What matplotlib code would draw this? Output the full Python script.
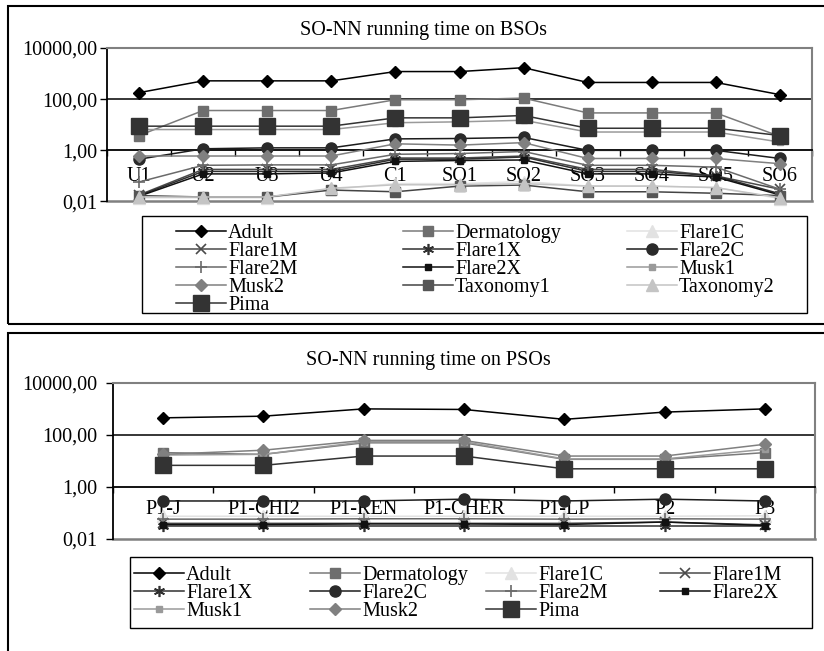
import matplotlib
matplotlib.use("Agg")
import matplotlib.pyplot as plt
from matplotlib.lines import Line2D
from matplotlib.patches import Rectangle
import numpy as np

plt.rcParams['font.family'] = ['Liberation Serif', 'DejaVu Serif']

# ---------------- data ----------------
bso_categories = ['U1', 'U2', 'U3', 'U4', 'C1', 'SO1', 'SO2', 'SO3', 'SO4', 'SO5', 'SO6']
bso_adult = [180, 520, 520, 520, 1200, 1200, 1700, 450, 450, 450, 150]
bso_dermatology = [3.8, 36, 36, 36, 95, 95, 110, 29, 29, 29, 3.5]
bso_flare1c = [0.014, 0.014, 0.014, 0.03, 0.05, 0.05, 0.06, 0.04, 0.04, 0.035, 0.013]
bso_flare1m = [0.018, 0.18, 0.18, 0.18, 0.5, 0.5, 0.6, 0.18, 0.18, 0.1, 0.03]
bso_flare1x = [0.017, 0.15, 0.15, 0.15, 0.45, 0.45, 0.55, 0.15, 0.15, 0.1, 0.02]
bso_flare2c = [0.45, 1.15, 1.25, 1.25, 2.8, 2.9, 3.2, 1.0, 1.0, 1.0, 0.48]
bso_flare2m = [0.058, 0.26, 0.27, 0.27, 0.7, 0.75, 0.9, 0.26, 0.26, 0.22, 0.03]
bso_flare2x = [0.016, 0.12, 0.12, 0.13, 0.37, 0.4, 0.42, 0.12, 0.12, 0.09, 0.018]
bso_musk1 = [6.5, 6.5, 6.5, 6.5, 12, 13, 15, 5.2, 5.2, 5.2, 2.1]
bso_musk2 = [0.6, 0.6, 0.6, 0.6, 1.8, 1.6, 2.0, 0.48, 0.48, 0.48, 0.3]
bso_taxonomy1 = [0.017, 0.015, 0.015, 0.028, 0.024, 0.04, 0.044, 0.024, 0.024, 0.021, 0.017]
bso_taxonomy2 = [0.015, 0.015, 0.015, 0.033, 0.045, 0.045, 0.05, 0.04, 0.04, 0.035, 0.014]
bso_pima = [8.8, 8.8, 8.8, 8.8, 18.6, 18.6, 23, 7.3, 7.3, 7.3, 3.8]

pso_categories = ['P1-J', 'P1-CHI2', 'P1-REN', 'P1-CHER', 'P1-LP', 'P2', 'P3']
pso_adult = [457, 530, 1010, 960, 400, 760, 1010]
pso_dermatology = [21, 18, 50, 50, 11.6, 11.6, 21]
pso_flare1c = [0.075, 0.075, 0.075, 0.075, 0.075, 0.075, 0.078]
pso_flare1m = [0.04, 0.04, 0.04, 0.04, 0.04, 0.045, 0.035]
pso_flare1x = [0.032, 0.032, 0.032, 0.032, 0.032, 0.032, 0.032]
pso_flare2c = [0.29, 0.29, 0.29, 0.34, 0.29, 0.34, 0.29]
pso_flare2m = [0.058, 0.058, 0.06, 0.06, 0.058, 0.06, 0.058]
pso_flare2x = [0.036, 0.036, 0.038, 0.038, 0.036, 0.045, 0.033]
pso_musk1 = [17, 18, 55, 55, 12, 12, 28]
pso_musk2 = [18, 26, 62, 62, 15.5, 15.5, 44]
pso_pima = [6.8, 6.8, 15.5, 15.5, 5.0, 5.0, 5.0]

y_ticks = [0.01, 1, 100, 10000]
y_tick_labels = ['0,01', '1,00', '100,00', '10000,00']

bso_series = [
    ('Adult', bso_adult), ('Dermatology', bso_dermatology), ('Flare1C', bso_flare1c),
    ('Flare1M', bso_flare1m), ('Flare1X', bso_flare1x), ('Flare2C', bso_flare2c),
    ('Flare2M', bso_flare2m), ('Flare2X', bso_flare2x), ('Musk1', bso_musk1),
    ('Musk2', bso_musk2), ('Taxonomy1', bso_taxonomy1), ('Taxonomy2', bso_taxonomy2),
    ('Pima', bso_pima),
]
pso_series = [
    ('Adult', pso_adult), ('Dermatology', pso_dermatology), ('Flare1C', pso_flare1c),
    ('Flare1M', pso_flare1m), ('Flare1X', pso_flare1x), ('Flare2C', pso_flare2c),
    ('Flare2M', pso_flare2m), ('Flare2X', pso_flare2x), ('Musk1', pso_musk1),
    ('Musk2', pso_musk2), ('Pima', pso_pima),
]

# ---------------- styles ----------------
STY = {
    'Adult':       dict(color='#000000', marker='D', ms=6.5, mfc='#000000', mec='#000000'),
    'Dermatology': dict(color='#7a7a7a', marker='s', ms=7, mfc='#6e6e6e', mec='#6e6e6e'),
    'Flare1C':     dict(color='#e2e2e2', marker='^', ms=8, mfc='#e2e2e2', mec='#e2e2e2'),
    'Flare1M':     dict(color='#4a4a4a', marker='x', ms=7, mfc='#4a4a4a', mec='#4a4a4a', mew=1.2),
    'Flare1X':     dict(color='#303030', marker=(6, 2, 0), ms=8, mfc='#303030', mec='#303030', mew=1.2),
    'Flare2C':     dict(color='#1c1c1c', marker='o', ms=8, mfc='#2a2a2a', mec='#2a2a2a'),
    'Flare2M':     dict(color='#6a6a6a', marker='+', ms=9, mfc='#6a6a6a', mec='#6a6a6a', mew=1.2),
    'Flare2X':     dict(color='#111111', marker='s', ms=4, mfc='#111111', mec='#111111'),
    'Musk1':       dict(color='#9a9a9a', marker='s', ms=4.5, mfc='#9a9a9a', mec='#9a9a9a'),
    'Musk2':       dict(color='#808080', marker='D', ms=6.5, mfc='#808080', mec='#808080'),
    'Taxonomy1':   dict(color='#444444', marker='s', ms=7, mfc='#555555', mec='#555555'),
    'Taxonomy2':   dict(color='#c4c4c4', marker='^', ms=8, mfc='#c4c4c4', mec='#c4c4c4'),
    'Pima':        dict(color='#333333', marker='s', ms=11, mfc='#333333', mec='#333333'),
}

W, H = 824, 651
FS = 14.5
fig = plt.figure(figsize=(W / 100, H / 100), dpi=100)


def fx(x):
    return x / W


def fy(y):
    return 1 - y / H


def make_panel(series, cats, left, right, top, bottom, xpad, ypad):
    ax = fig.add_axes([fx(left), fy(bottom), fx(right) - fx(left), fy(top) - fy(bottom)])
    x = np.arange(len(cats))
    for i, (name, vals) in enumerate(series):
        ax.plot(x, vals, lw=1.1, zorder=3 + i * 0.01, clip_on=False, **STY[name])
    ax.set_yscale('log')
    ax.set_ylim(0.01, 10000)
    ax.set_xlim(-0.5, len(cats) - 0.5)
    ax.set_yticks(y_ticks)
    ax.set_yticklabels(y_tick_labels)
    ax.yaxis.set_minor_locator(matplotlib.ticker.NullLocator())
    ax.set_xticks(x)
    ax.set_xticklabels(cats)
    ax.set_xticks(np.arange(len(cats) + 1) - 0.5, minor=True)
    ax.tick_params(axis='x', which='major', length=0, pad=xpad, labelsize=FS)
    ax.tick_params(axis='x', which='minor', length=4, width=1, direction='out', color='black')
    ax.tick_params(axis='y', which='major', length=5, width=1, pad=ypad, labelsize=FS, direction='out')
    ax.spines['bottom'].set_position(('data', 1))
    ax.spines['bottom'].set_color('black')
    ax.spines['bottom'].set_linewidth(1.3)
    ax.spines['left'].set_color('black')
    ax.spines['left'].set_linewidth(1.3)
    for sp in ['top', 'right']:
        ax.spines[sp].set_color('#808080')
        ax.spines[sp].set_linewidth(1.5)
    ax.axhline(100, color='black', lw=1.1, zorder=1)
    ax.axhline(0.01, color='#808080', lw=1.8, zorder=1, clip_on=False)
    ax.set_facecolor('none')
    return ax


def draw_legend(names, box, col_x, row_y0, row_dy, ncol, hlen=50):
    x0, y0, x1, y1 = box
    fig.add_artist(Rectangle((fx(x0), fy(y1)), fx(x1) - fx(x0), fy(y0) - fy(y1),
                             transform=fig.transFigure, fill=False, lw=1.0, ec='black'))
    for k, name in enumerate(names):
        r, c = divmod(k, ncol)
        xs = col_x[c]
        yy = row_y0 + r * row_dy
        fig.add_artist(Line2D([fx(xs), fx(xs + hlen / 2), fx(xs + hlen)], [fy(yy)] * 3,
                              transform=fig.transFigure, lw=1.1, markevery=[1], **STY[name]))
        fig.text(fx(xs + hlen + 2), fy(yy), name, ha='left', va='center_baseline', fontsize=FS)


# ---- top panel ----
fig.add_artist(Rectangle((fx(8), fy(324)), fx(840) - fx(8), fy(6) - fy(324),
                         transform=fig.transFigure, fill=False, lw=1.5, ec='black'))
ax1 = make_panel(bso_series, bso_categories, 107, 812, 48, 201.5, xpad=12, ypad=2)
fig.text(fx(424), fy(31), 'SO-NN running time on BSOs', ha='center', va='center', fontsize=FS)
draw_legend([n for n, _ in bso_series], (142, 216, 807, 313), [176, 403, 627], 231, 18, 3)

# ---- bottom panel ----
fig.add_artist(Rectangle((fx(8), fy(700)), fx(840) - fx(8), fy(333) - fy(700),
                         transform=fig.transFigure, fill=False, lw=1.5, ec='black'))
ax2 = make_panel(pso_series, pso_categories, 113, 815, 383, 539, xpad=9, ypad=6)
fig.text(fx(428), fy(360), 'SO-NN running time on PSOs', ha='center', va='center', fontsize=FS)
draw_legend([n for n, _ in pso_series], (130, 557, 812, 628), [134, 310, 486, 660], 573, 18, 4)

fig.savefig('out.png', dpi=100)
